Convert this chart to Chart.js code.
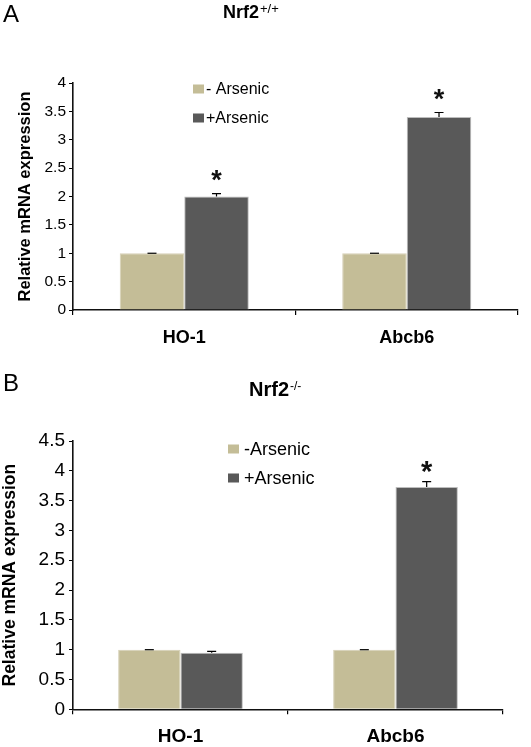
<!DOCTYPE html>
<html lang="en">
<head>
<meta charset="UTF-8" />
<title>Nrf2 arsenic mRNA expression</title>
<script src="https://cdn.jsdelivr.net/npm/chart.js"></script>
<style>
  body { margin: 0; background: #fff; width: 531px; height: 747px; overflow: hidden; position: relative; }
  canvas { position: absolute; left: 0; }
  #panelA { top: 0; }
  #panelB { top: 370px; }
</style>
</head>
<body>
<canvas id="panelA" width="531" height="370"></canvas>
<canvas id="panelB" width="531" height="377"></canvas>
<script>
// values
const genes = ["HO-1", "Abcb6"];

// panel A, Nrf2+/+
const wtMinus = [1.0, 1.0];
const wtPlus = [2.0, 3.4];
const wtMinusErr = [0, 0];
const wtPlusErr = [0.05, 0.08];
const wtPlusSig = [true, true];

// panel B, Nrf2-/-
const koMinus = [1.0, 1.0];
const koPlus = [0.95, 3.73];
const koMinusErr = [0, 0];
const koPlusErr = [0.02, 0.09];
const koPlusSig = [false, true];

const TAN = "#c4bd97";
const DARK = "#595959";
const FONT = "'Liberation Sans', Arial, sans-serif";

// error bars, asterisks, legend, panel letter and title with superscript
const decorPlugin = {
  id: "decor",
  afterDatasetsDraw(chart, args, o) {
    const ctx = chart.ctx;
    const y = chart.scales.y;
    ctx.save();
    chart.data.datasets.forEach((ds, i) => {
      const meta = chart.getDatasetMeta(i);
      meta.data.forEach((bar, j) => {
        const top = y.getPixelForValue(ds.data[j] + ds.err[j]);
        ctx.strokeStyle = "#000";
        ctx.lineWidth = 1.2;
        ctx.beginPath();
        ctx.moveTo(bar.x, bar.y);
        ctx.lineTo(bar.x, top);
        ctx.moveTo(bar.x - 4.5, top);
        ctx.lineTo(bar.x + 4.5, top);
        ctx.stroke();
        if (ds.sig && ds.sig[j]) {
          const cy = top - o.star.gap;
          ctx.fillStyle = "#111";
          ctx.font = "bold " + o.star.size + "px " + FONT;
          ctx.textAlign = "center";
          ctx.textBaseline = "alphabetic";
          ctx.fillText("*", bar.x, cy + 0.573 * o.star.size);
        }
      });
    });

    // legend
    ctx.textAlign = "left";
    ctx.textBaseline = "middle";
    ctx.font = o.legend.size + "px " + FONT;
    chart.data.datasets.forEach((ds, i) => {
      const cy = o.legend.y[i];
      ctx.fillStyle = ds.backgroundColor;
      ctx.fillRect(o.legend.x, cy - 4.5, 11, 9);
      ctx.fillStyle = "#000";
      ctx.fillText(ds.label, o.legend.textX, cy + 1);
    });

    // panel letter
    ctx.textBaseline = "alphabetic";
    ctx.font = o.letter.size + "px " + FONT;
    ctx.fillText(o.letter.text, o.letter.x, o.letter.y);

    // title with superscript
    ctx.font = "bold " + o.title.size + "px " + FONT;
    ctx.fillText(o.title.text, o.title.x, o.title.y);
    const w = ctx.measureText(o.title.text).width;
    ctx.font = o.title.supSize + "px " + FONT;
    ctx.fillText(o.title.sup, o.title.x + w + 1, o.title.supY);
    ctx.restore();
  }
};

function makePanel(id, p) {
  const ctx = document.getElementById(id).getContext("2d");
  return new Chart(ctx, {
    type: "bar",
    data: {
      labels: genes,
      datasets: [
        { label: p.labels[0], data: p.minus, err: p.minusErr, backgroundColor: TAN,
          borderColor: "#d6d0b6", borderWidth: 1 },
        { label: p.labels[1], data: p.plus, err: p.plusErr, sig: p.sig, backgroundColor: DARK,
          borderColor: "#bdbdbd", borderWidth: 1 }
      ]
    },
    options: {
      responsive: false,
      animation: false,
      devicePixelRatio: 1,
      layout: { padding: { top: p.top, right: 531 - p.right, left: 0, bottom: 0 } },
      datasets: { bar: { categoryPercentage: 0.58, barPercentage: 1.0 } },
      plugins: {
        legend: { display: false },
        tooltip: { enabled: false },
        decor: p.decor
      },
      scales: {
        x: {
          grid: { display: true, offset: true, drawOnChartArea: false, tickLength: 5, color: "#000", lineWidth: 1.2 },
          border: { display: true, color: "#111", width: 1.6 },
          ticks: { color: "#000", padding: p.xPad, font: { family: FONT, size: p.xSize, weight: "bold" } },
          afterFit(scale) { scale.height = p.H - p.bottom; }
        },
        y: {
          min: 0,
          max: p.ymax,
          ticks: { stepSize: 0.5, color: "#000", padding: p.tickPad,
                   font: { family: FONT, size: p.tickSize }, callback: v => String(v) },
          grid: { display: true, drawOnChartArea: false, tickLength: 4, color: "#000", lineWidth: 1 },
          border: { display: true, color: "#111", width: 1.6 },
          title: { display: true, text: "Relative mRNA expression", color: "#000",
                   padding: { top: p.titlePad, bottom: 0 },
                   font: { family: FONT, size: p.titleSize, weight: "bold" } },
          afterFit(scale) { scale.width = 73; }
        }
      }
    },
    plugins: [decorPlugin]
  });
}

makePanel("panelA", {
  H: 370, top: 83, bottom: 310, right: 518, ymax: 4,
  labels: ["- Arsenic", "+Arsenic"],
  minus: wtMinus, plus: wtPlus, minusErr: wtMinusErr, plusErr: wtPlusErr, sig: wtPlusSig,
  xPad: 12, xSize: 18, tickPad: 3, tickSize: 15.5, titlePad: 16, titleSize: 16.5,
  decor: {
    star: { size: 27, gap: 20 },
    legend: { x: 193, textX: 206, y: [89, 118], size: 16 },
    letter: { text: "A", x: 3, y: 22, size: 24 },
    title: { text: "Nrf2", sup: "+/+", x: 223, y: 18, size: 18, supSize: 13, supY: 13 }
  }
});

makePanel("panelB", {
  H: 377, top: 71, bottom: 339.3, right: 503, ymax: 4.5,
  labels: ["-Arsenic", "+Arsenic"],
  minus: koMinus, plus: koPlus, minusErr: koMinusErr, plusErr: koPlusErr, sig: koPlusSig,
  xPad: 11, xSize: 19, tickPad: 4, tickSize: 19, titlePad: 0, titleSize: 17.5,
  decor: {
    star: { size: 29, gap: 17 },
    legend: { x: 228, textX: 244, y: [79, 108], size: 18 },
    letter: { text: "B", x: 3, y: 21, size: 24 },
    title: { text: "Nrf2", sup: "-/-", x: 249, y: 26, size: 20, supSize: 12, supY: 20 }
  }
});
</script>
</body>
</html>
